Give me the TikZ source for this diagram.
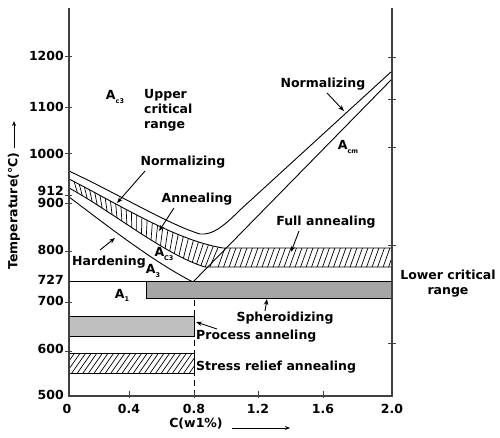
\documentclass[tikz,border=0pt]{standalone}
\usepackage{fontspec}
\setmainfont{DejaVu Sans}
\usetikzlibrary{calc,arrows.meta}
\newcommand\mysub[1]{\raisebox{-0.45ex}{\fontsize{6.5}{7}\selectfont #1}}
\begin{document}
\begin{tikzpicture}[x=1pt,y=-1pt,
  font=\fontsize{12.5}{15}\selectfont\bfseries,
  axis/.style={draw=black!75,line width=1.3pt},
  tickmark/.style={draw=black!75,line width=1pt},
  curve/.style={draw=black,line width=0.9pt},
  hatch/.style={draw=black,line width=0.7pt},
  lbl/.style={inner sep=0pt},
  arr/.style={-{Stealth[length=6pt,width=4.5pt]},line width=0.9pt}]
\useasboundingbox (0,0) rectangle (500,437);

% hatch points along upper boundary of annealing band
\path (69,179) .. controls (120,205) and (175,240) .. (223,248)
  foreach \i [evaluate=\i as \t using \i/30] in {1,...,29} {coordinate[pos=\t] (u\i)};

% annealing / full annealing hatch
\begin{scope}
\clip (69,179) .. controls (120,205) and (175,240) .. (223,248) -- (392,248) -- (392,267) -- (205,267) .. controls (165,255) and (110,210) .. (69,188) -- cycle;
\foreach \i in {1,...,29} {
  \pgfmathsetmacro\p{72+42*\i/30}
  \draw[hatch] ($(u\i)+({-8*cos(\p)},{-8*sin(\p)})$) -- ($(u\i)+({40*cos(\p)},{40*sin(\p)})$);
}
\foreach \x in {217,222.5,...,400} \draw[hatch] (\x,270) -- (\x+9,245);
\end{scope}

% curves
\draw[curve] (69,171) .. controls (120,195) and (170,225) .. (200,234) .. controls (212,235) and (222,228) .. (240,210) -- (392,71);
\draw[curve] (69,179) .. controls (120,205) and (175,240) .. (223,248) -- (392,248);
\draw[curve] (69,188) .. controls (110,210) and (165,255) .. (205,267) -- (392,267);
\draw[curve] (69,197) .. controls (100,220) and (150,260) .. (193,282);
\draw[curve] (193,282) -- (392,79);

% 727 line and spheroidizing bar
\draw[curve] (69,281) -- (146,281);
\draw[curve, fill=black!35] (146,281) rectangle (392,298);

% dashed 0.8 line
\draw[line width=0.9pt, dash pattern=on 6pt off 4pt] (194,300) -- (194,396);

% process annealing bar
\draw[curve, fill=black!25] (69,316) rectangle (194,336);

% stress relief band
\begin{scope}
\clip (69,353) rectangle (194,373);
\foreach \x in {55,60.6,...,200} \draw[hatch] (\x,373) -- (\x+14,353);
\end{scope}
\draw[curve] (69,353) rectangle (194,373);

% axes
\draw[axis] (69,8) -- (69,396) -- (392,396) -- (392,8);
\foreach \y in {56,107,153,195,203,251,302,351} \draw[tickmark] (65,\y) -- (72,\y);
\foreach \y in {57,99,147,245,343} \draw[tickmark] (388,\y) -- (396,\y);
\foreach \x in {129,194,258,323} \draw[tickmark] (\x,391) -- (\x,398);

% y labels
\foreach \y/\t in {56/1200,107/1100,154/1000,191/912,203/900,250/800,280/727,301/700,349/600,395/500}
  \node[lbl, anchor=east] at (64,\y) {\t};
% x labels
\foreach \x/\t in {67/0,129/0.4,194/0.8,258/1.2,323/1.6,392/2.0}
  \node[lbl] at (\x,409) {\t};

% axis titles
\node[lbl, rotate=90] (ttl) at (14,211) {Temperature(°C)};
\coordinate (ttip) at (14,121);
\draw[-{Stealth[length=5pt,width=4pt]},line width=0.9pt] ([xshift=0pt]ttl.east) ++(0,-4) -- (ttip);
\node[lbl] (xtl) at (196,424) {C(w1\%)};
\coordinate (xs) at (232,428);
\coordinate (xe) at (290,428);
\draw[-{Stealth[length=5pt,width=4pt]},line width=0.9pt] (xs) -- (xe);

% labels
\node[lbl] (ac3top) at (115,97) {A\mysub{c3}};
\node[lbl, anchor=west, align=left] (ucr) at (144,110) {Upper\\critical\\range};
\node[lbl] (norm1) at (183,162) {Normalizing};
\node[lbl] (ann) at (197,199) {Annealing};
\node[lbl] (hard) at (109,262) {Hardening};
\node[lbl] (ac3) at (164,254) {A\mysub{C3}};
\node[lbl] (a3) at (153,271) {A\mysub{3}};
\node[lbl] (a1) at (122,295) {A\mysub{1}};
\node[lbl] (norm2) at (323,84) {Normalizing};
\node[lbl] (acm) at (348,147) {A\mysub{cm}};
\node[lbl] (full) at (326,222) {Full annealing};
\node[lbl, align=center] (lcr) at (448,284) {Lower critical\\range};
\node[lbl] (sph) at (285,318) {Spheroidizing};
\node[lbl, anchor=west] (proc) at (196,336) {Process anneling};
\node[lbl, anchor=west] (stress) at (196,367) {Stress relief annealing};

% arrows
\coordinate (n1s) at (145,171); \coordinate (n1e) at (117,203);
\draw[arr] (n1s) -- (n1e);
\coordinate (ans) at (174,208); \coordinate (ane) at (159,231);
\draw[arr] (ans) -- (ane);
\coordinate (hs) at (100,250); \coordinate (he) at (115,238);
\draw[arr] (hs) -- (he);
\coordinate (n2s) at (327,93); \coordinate (n2e) at (344,111);
\draw[arr] (n2s) -- (n2e);
\coordinate (fs) at (299,231); \coordinate (fe) at (291,252);
\draw[arr] (fs) -- (fe);
\coordinate (ss) at (265,311); \coordinate (se) at (267,299);
\draw[arr] (ss) -- (se);
\coordinate (ps) at (217,329); \coordinate (pe) at (196,322);
\draw[arr] (ps) -- (pe);
\end{tikzpicture}
\end{document}
